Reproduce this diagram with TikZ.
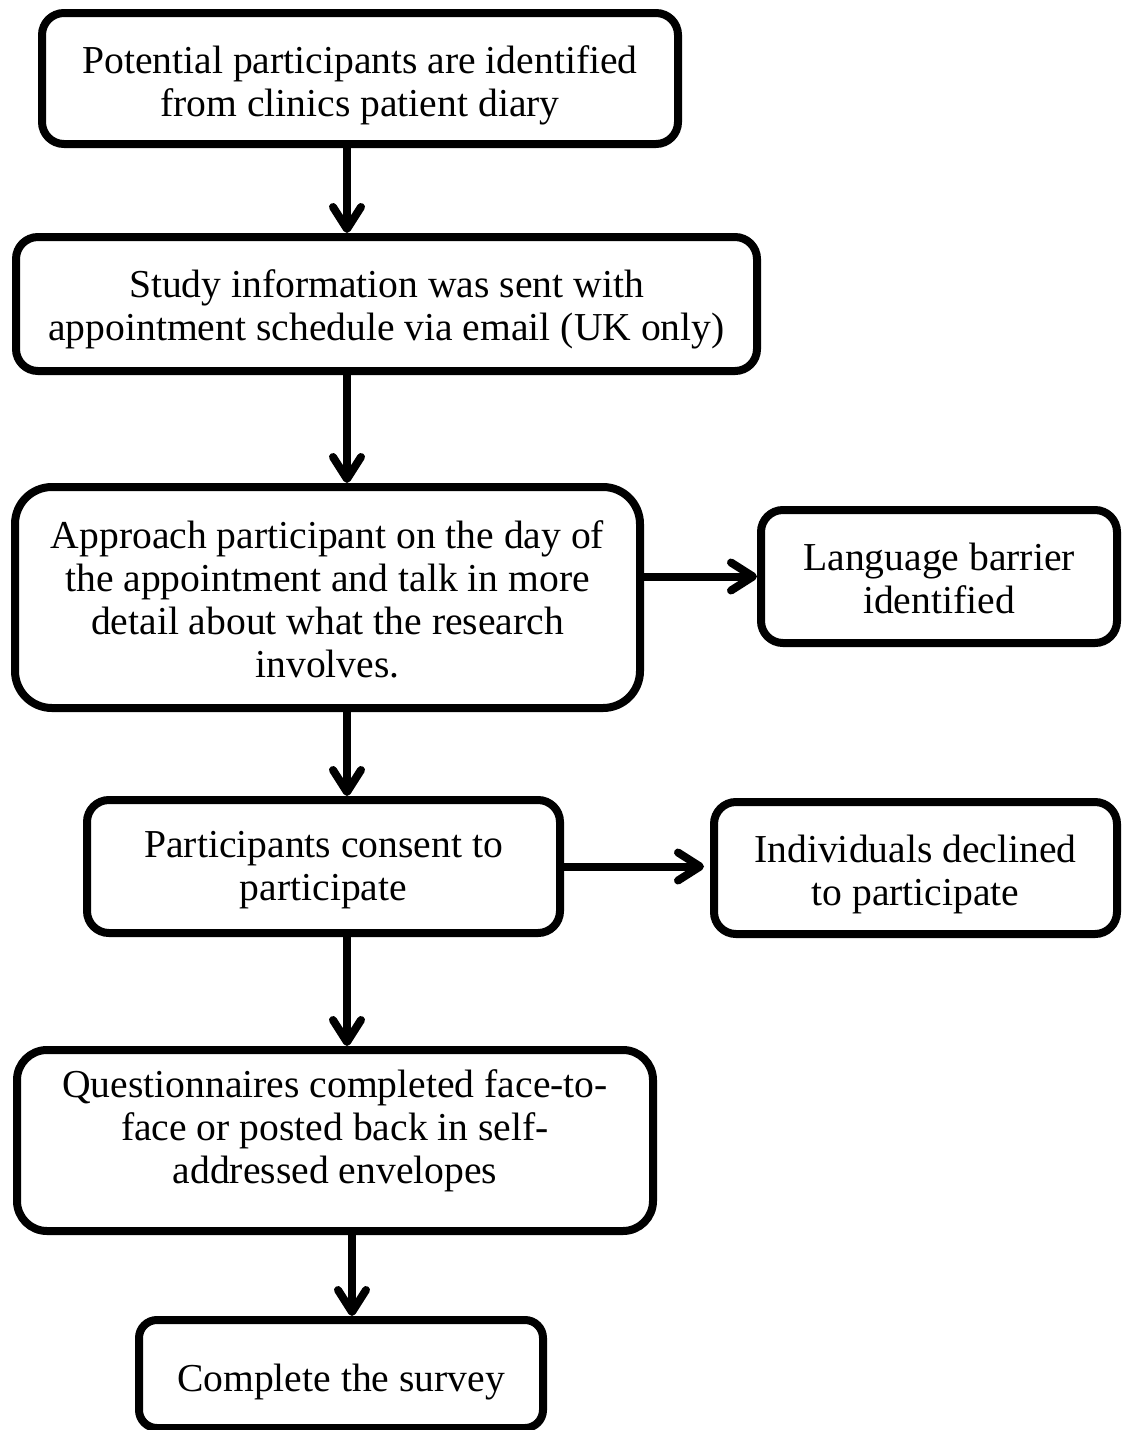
\documentclass[tikz,border=0pt]{standalone}
\usepackage{fontspec}
\setmainfont{Liberation Serif}
\usetikzlibrary{arrows.meta}
\begin{document}
\begin{tikzpicture}[x=1pt,y=-1pt,
  box/.style={draw=black, fill=white, line width=8pt, rounded corners=#1, inner sep=0pt},
  box/.default=22pt,
  txt/.style={align=center, inner sep=0pt, font=\fontsize{39.6}{43}\selectfont},
  arr/.style={line width=8pt, -{Straight Barb[length=22pt,width=28pt,round]}}]
\useasboundingbox (0,0) rectangle (1124,1430);
\fill[white] (0,0) rectangle (1124,1430);

\node[box, minimum width=636pt, minimum height=131pt] (b1) at (360,78.5) {};
\node[box, minimum width=741pt, minimum height=134pt] (b2) at (386.5,304) {};
\node[box=37pt, minimum width=625pt, minimum height=221pt] (b3) at (327.5,597.5) {};
\node[box, minimum width=356pt, minimum height=133pt] (b4) at (939,576.5) {};
\node[box, minimum width=473pt, minimum height=133pt] (b5) at (323.5,866.5) {};
\node[box, minimum width=403pt, minimum height=132pt] (b6) at (915.5,868) {};
\node[box=30pt, minimum width=636pt, minimum height=181pt] (b7) at (335,1140.5) {};
\node[box=18pt, minimum width=404pt, minimum height=108pt] (b8) at (341,1374) {};

\node[txt, yshift=-7pt] (t1) at (b1.center)
  {Potential participants are identified\\from clinics patient diary};
\node[txt, yshift=-5pt] (t2) at (b2.center)
  {Study information was sent with\\appointment schedule via email (UK only)};
\node[txt, yshift=-2pt] (t3) at (b3.center)
  {Approach participant on the day of\\the appointment and talk in more\\detail about what the research\\involves.};
\node[txt, yshift=-2pt] (t4) at (b4.center) {Language barrier\\identified};
\node[txt, yshift=-4pt] (t5) at (b5.center) {Participants consent to\\participate};
\node[txt, yshift=-6pt] (t6) at (b6.center) {Individuals declined\\to participate};
\node[txt, yshift=10pt] (t7) at (b7.center)
  {Questionnaires completed face-to-\\face or posted back in self-\\addressed envelopes};
\node[txt, yshift=-8pt] (t8) at (b8.center) {Complete the survey};

\coordinate (ax) at (347,0);
\coordinate (ax2) at (352,0);
\draw[arr] (b1.south -| ax) -- (b2.north -| ax);
\draw[arr] (b2.south -| ax) -- (b3.north -| ax);
\draw[arr] (b3.east |- b4.west) -- (b4.west);
\draw[arr] (b3.south -| ax) -- (b5.north -| ax);
\draw[arr, shorten >=6pt] (b5.east) -- (b5.east -| b6.west);
\draw[arr] (b5.south -| ax) -- (b7.north -| ax);
\draw[arr] (b7.south -| ax2) -- (b8.north -| ax2);
\end{tikzpicture}
\end{document}
